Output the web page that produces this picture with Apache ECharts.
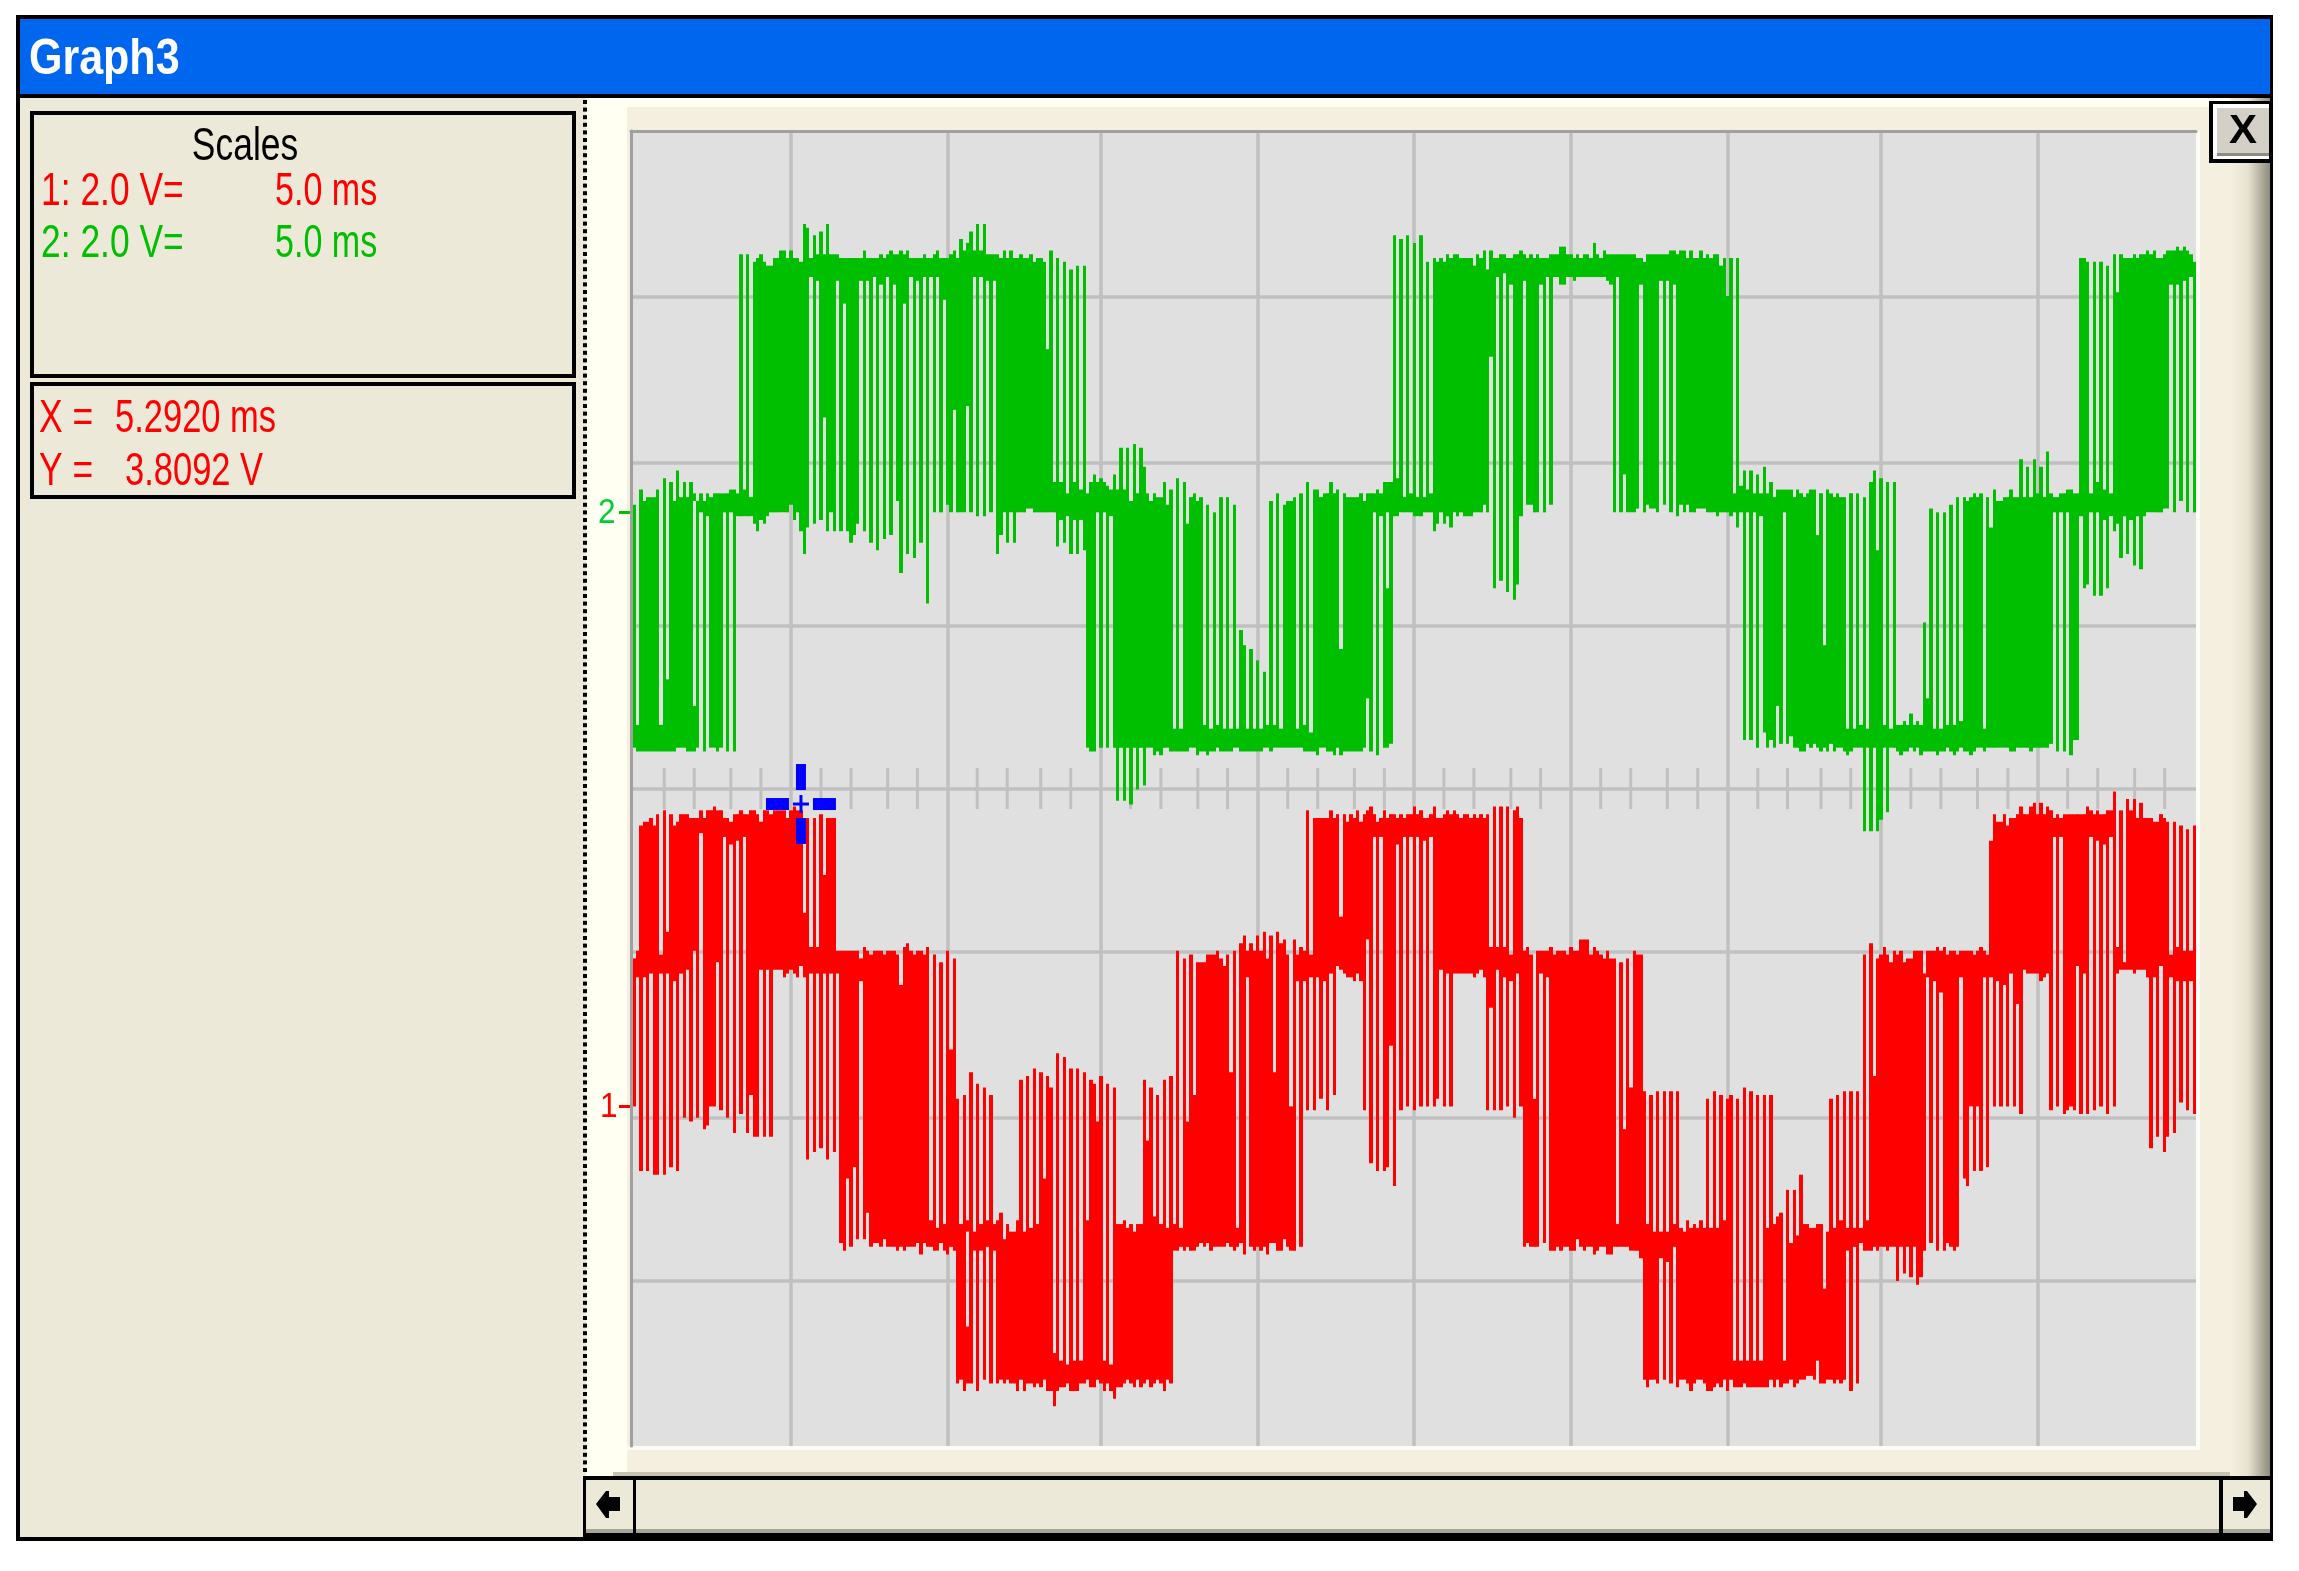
<!DOCTYPE html>
<html><head><meta charset="utf-8">
<style>html,body{margin:0;padding:0;background:#fff}#c{width:2299px;height:1571px}</style>
<script src="https://cdn.jsdelivr.net/npm/echarts@6/dist/echarts.min.js"></script>
</head><body><div id="c"></div>
<script>
// Values. Trace values are ADC counts per sample column, relative to each channel's ground marker.
const voltsPerCount = 0.04618;
const msPerSample = 0.10649;
const firstSampleMs = 0.054;
const channel1Ground = -3.868;
const channel2Ground = 3.36;
const cursorPoint = [5.43, -0.189];
const gridMs = [5.11,10.13,15.02,20.03,25.02,30.03,35.05,39.94,44.95];
const gridVolts = [-5.99,-4.01,-1.99,0,1.98,3.96,5.98];
const minorTickMs = [1.06,2.02,3.19,4.15,6.07,7.03,8.2,9.15,11.06,12.02,13.09,14.05,15.96,16.93,18.11,19.06,20.98,21.94,23.11,24.07,25.97,26.93,28.11,29.06,30.98,31.94,33.11,34.08,36,36.95,38.02,38.97,40.89,41.85,43.02,43.99,45.9,46.86,48.04,49];

const greenHigh = [
2,-56,6,3,4,4,4,6,-56,9,
-44,8,3,11,4,8,4,8,5,3,
5,3,5,4,5,5,5,5,5,6,
6,5,68,6,68,4,66,67,68,66,
65,65,67,67,69,69,67,69,67,67,
66,76,75,67,73,68,74,68,76,68,
68,68,67,67,67,67,67,67,67,69,
67,67,67,67,68,67,68,69,68,68,
69,68,69,67,67,67,67,68,67,67,
68,69,67,67,67,68,69,67,72,69,
71,74,69,76,69,76,68,68,68,68,
67,69,67,69,67,67,68,67,67,68,
66,67,67,66,43,69,8,67,8,66,
5,64,8,65,6,65,5,8,10,8,
9,8,7,6,10,6,17,6,17,3,
18,5,17,12,5,3,5,4,4,8,
2,6,-57,9,-57,8,-3,4,5,3,
4,-56,2,-57,0,-56,4,-57,4,-57,
2,-57,-31,-35,-57,-36,-57,-39,-57,-42,
-56,3,-56,5,-57,2,3,3,4,-57,
5,-56,8,-58,6,6,4,5,5,8,
5,6,-36,5,4,4,4,4,5,3,
5,5,5,6,5,8,8,8,73,9,
72,4,73,5,71,4,73,4,66,5,
67,66,67,66,68,67,68,68,67,67,
67,67,65,68,67,69,64,69,67,67,
68,68,67,67,68,68,69,68,67,68,
67,68,67,67,67,68,68,68,70,70,
68,68,67,68,67,68,68,67,71,68,
67,69,68,68,68,68,68,68,68,68,
68,67,67,66,68,68,68,68,68,68,
68,69,69,68,69,69,67,69,67,67,
69,67,68,67,68,68,65,67,57,67,
5,67,7,11,6,11,5,10,5,12,
5,8,4,6,6,6,6,6,4,6,
5,4,5,6,6,-6,5,-35,6,5,
4,5,4,4,-57,5,-57,5,-56,4,
-57,8,11,-10,9,-56,8,-57,8,-56,
-56,-55,-56,-53,-56,-55,-56,-29,-49,1,
-57,0,-57,0,-56,2,-56,4,-55,4,
3,4,5,4,5,-57,4,-4,6,3,
3,4,4,6,4,4,14,4,12,4,
14,5,12,4,16,5,4,4,5,5,
6,6,5,5,67,67,66,5,66,8,
66,6,65,5,68,58,68,67,67,67,
68,67,68,68,69,68,69,67,67,68,
69,69,69,70,69,70,69,68,66];
const greenLow = [
-62,-63,-63,-63,-63,-63,-63,-63,-63,-63,
-63,-63,-63,-62,-62,-62,-63,-63,-63,-62,
0,-63,-1,-62,-62,-63,-62,0,-63,0,
-63,-1,-1,-1,-1,-1,-3,-5,-2,-3,
-1,0,0,0,0,0,0,2,-2,0,
-5,-11,-4,62,-3,61,-2,25,-5,0,
-5,61,-5,55,-5,-8,-6,-3,61,-5,
61,-8,62,-10,60,-7,62,-6,60,3,
-16,55,-11,62,-12,61,-8,62,-24,62,
0,62,0,56,2,0,27,0,0,0,
28,0,62,-1,62,-1,61,0,61,-11,
-6,0,-8,0,-8,0,0,0,1,1,
0,0,0,0,0,0,0,-9,-2,-8,
-1,-11,-2,-11,-2,-10,-62,-63,-63,0,
-62,0,-62,-1,-62,-76,-62,-76,-62,-77,
-62,-73,-62,-72,-62,-62,-64,-63,-64,-62,
-62,-63,-63,-63,-63,-63,-63,-62,-62,-64,
-63,-63,-64,-63,-63,-62,-63,-63,-63,-63,
-62,-62,-63,-63,-63,-63,-63,-63,-63,-62,
-62,-63,-62,-62,-62,-62,-62,-62,-62,-62,
-62,-63,-63,-63,-63,-64,-62,-62,-63,-63,
-64,-62,-64,-63,-63,-63,-63,-63,-63,-62,
-49,-63,0,-64,-1,-62,-62,-61,-1,-1,
0,0,0,0,-1,-1,-1,0,0,0,
-5,-3,0,-3,-1,-4,0,-1,0,-1,
-1,-1,0,0,0,2,0,41,-20,62,
-18,63,-21,60,-23,-19,-1,61,2,2,
0,0,60,0,62,2,62,62,60,60,
62,62,61,62,62,62,62,62,62,62,
62,62,61,60,0,62,0,10,0,0,
0,1,60,0,2,1,1,0,61,2,
61,0,60,-1,2,0,2,0,0,1,
1,1,0,0,0,-1,0,0,0,-1,
0,-4,0,-60,0,-60,0,-62,-1,-58,
-62,-60,-62,-51,-61,0,-61,-59,-62,-62,
-63,-63,-61,-62,-61,-62,-63,-62,-63,-61,
-63,-62,-62,-63,-64,-63,-62,-62,-62,-84,
-62,-84,-62,-84,-81,-62,-79,-62,-62,-63,
-64,-63,-63,-62,-63,-62,-64,-63,-63,-63,
-63,-64,-63,-63,-62,-63,-64,-63,-62,-63,
-63,-64,-63,-62,-62,-63,-62,-62,-62,-62,
-62,-62,-62,-63,-63,-62,-62,-62,-62,-63,
-62,-62,-62,-62,-62,-61,0,-63,0,-63,
0,-64,-60,-60,-1,-20,-19,0,-22,0,
-22,-2,-20,-1,-5,-3,-12,-1,-11,-2,
-14,-1,-15,-1,0,0,0,0,0,1,
1,60,0,60,3,61,0,62,0];
const greenGaps = [[18,3,-51],[226,0,-20]];

const redHigh = [
39,41,74,75,75,76,74,77,40,78,
46,77,74,75,77,77,77,76,76,76,
78,76,78,78,79,78,78,76,76,75,
77,77,78,77,77,78,78,77,75,78,
78,77,78,78,78,78,76,78,79,78,
78,51,76,42,76,42,77,61,76,76,
76,41,41,41,41,41,41,41,39,42,
41,40,41,41,41,40,41,41,41,40,
32,42,43,41,40,41,41,40,42,-30,
40,-32,38,-31,41,15,39,2,-31,3,
-30,9,-33,6,-31,5,-30,3,-31,-30,
-28,-35,-31,-33,-33,-30,7,-33,8,-32,
10,-31,9,-19,8,5,-65,14,-67,13,
-68,10,-67,10,-67,9,-30,7,6,-4,
8,-67,6,-68,5,-31,-31,-30,-32,-31,
-33,-31,-31,7,-9,5,-29,3,-31,7,
-32,8,-31,41,-32,39,-4,40,3,38,
38,38,40,40,40,41,39,37,40,9,
41,-32,43,45,41,43,41,45,41,46,
39,45,9,46,43,44,40,0,44,40,
42,41,78,40,76,76,76,76,76,78,
76,77,50,77,75,77,76,78,75,77,
78,79,77,75,76,78,76,77,77,76,
77,76,77,77,79,77,78,76,76,77,
79,76,76,77,78,77,78,77,76,77,
77,76,77,76,77,76,77,42,79,42,
79,42,79,40,78,79,76,41,42,40,
2,41,41,41,41,42,40,41,41,41,
40,42,41,41,44,44,44,40,42,41,
40,39,41,39,39,-31,38,-6,39,5,
41,40,40,4,-31,3,-33,4,-33,4,
-33,4,-31,4,-32,-33,-30,-32,-31,-32,
-30,-32,2,-32,4,-32,3,-30,2,3,
-67,2,-67,5,-67,4,-67,3,-67,3,
-32,3,-31,-29,-28,-67,-22,-36,-22,-34,
-18,-31,-31,-32,-32,-31,-31,-48,-33,2,
-32,3,-30,4,-32,4,-32,4,-32,40,
-30,43,8,39,40,42,40,38,41,40,
41,38,39,39,41,41,41,35,41,41,
41,42,41,42,40,41,41,40,41,41,
41,41,40,41,42,41,40,70,77,75,
75,77,74,76,76,77,79,77,77,79,
80,77,80,77,79,78,76,77,76,77,
77,77,77,77,77,77,79,78,77,78,
77,77,78,78,83,42,78,38,81,78,
81,76,80,76,76,76,75,75,77,76,
75,40,75,42,74,41,73,41,74];
const redLow = [
0,34,-17,34,-17,35,-18,-18,35,-18,
35,-16,33,-17,35,-3,36,-4,41,-3,
72,-6,-5,0,0,38,-1,71,-3,69,
-7,70,-2,71,-7,3,-8,-8,36,-8,
36,-8,36,36,36,34,35,36,35,34,
37,34,-14,35,-12,35,-11,35,-14,35,
-12,35,-36,-38,-19,-37,-16,-35,33,-35,
-28,-37,-36,-36,-37,-35,-37,-37,-37,-38,
-37,-38,-37,-37,-37,-36,-39,-36,-37,-37,
-38,-38,-36,-38,-39,-37,-38,-73,-72,-75,
-73,-73,-38,-75,-38,-72,-37,-73,-38,-73,
-72,-73,-72,-73,-73,-75,-72,-75,-73,-73,
-74,-73,-74,-72,-75,-75,-79,-75,-74,-74,
-73,-75,-75,-75,-73,-73,-72,-74,-74,-72,
-73,-75,-73,-75,-77,-74,-74,-73,-72,-73,
-74,-72,-74,-73,-72,-74,-73,-72,-73,-75,
-72,-73,-38,-38,-37,-38,-37,-38,-38,-37,
-36,-37,-36,-38,-37,-37,-37,-37,-36,-37,
-38,-37,-36,-39,34,-37,-38,-37,-38,-37,
-39,-36,-36,-38,-38,-35,-37,-38,-38,33,
-37,33,-1,34,-1,34,2,33,-1,35,
3,37,36,35,34,34,33,35,33,-1,
44,-15,71,-17,71,-17,-16,16,-21,69,
-1,71,0,71,-1,71,0,70,0,71,
0,2,36,0,35,0,35,35,35,35,
35,35,34,35,36,34,-1,26,-1,36,
-1,34,0,33,-3,35,0,-37,-36,-37,
-37,-37,35,-36,34,-38,-38,-37,-38,-37,
-37,-38,-38,-35,-37,-38,-37,-37,-39,-38,
-37,-37,-39,-39,-37,-37,-37,-37,-37,-38,
-38,-38,-40,-72,-74,-72,-72,-73,-40,-72,
-41,-73,-37,-74,-72,-72,-73,-75,-73,-72,
-72,-73,-75,-75,-74,-73,-74,-72,-75,-72,
-74,-74,-74,-73,-74,-74,-74,-74,-74,-74,
-74,-72,-74,-72,-74,-73,-73,-72,-74,-73,
-72,-72,-71,-71,-72,-67,-73,-73,-72,-72,
-73,-72,-73,-72,-38,-75,-37,-73,-36,-38,
-38,-38,-37,-38,-37,-37,-38,-37,-37,-46,
-37,-44,-37,-45,-37,-47,-45,-38,34,-36,
33,-38,30,-38,-36,-37,-38,-37,34,-19,
-21,0,-17,0,-17,34,-16,34,0,33,
0,32,0,35,0,27,-2,36,35,35,
35,35,33,34,35,-1,71,0,71,-2,
-1,0,-1,37,-2,35,-2,71,-1,70,
0,69,-2,71,0,35,36,36,36,36,
35,36,36,36,34,-11,34,-8,37,-12,
-8,34,-7,33,1,33,-1,33,-2];
const redGaps = [[100,-33,-58]];

function buildTrace(high, low, gaps, ground){
  const out = [];
  const v = n => ground + n * voltsPerCount;
  const t = c => firstSampleMs + c * msPerSample;
  high.forEach((hi, c) => {
    const gap = gaps.find(g => g[0] === c);
    if (gap){
      out.push([t(c), t(c + 1), v(hi), v(gap[1])]);
      out.push([t(c), t(c + 1), v(gap[2]), v(low[c])]);
    } else {
      out.push([t(c), t(c + 1), v(hi), v(low[c])]);
    }
  });
  return out;
}
function traceSeries(name, color, data){
  return {
    type:'custom', name, data, z:4, clip:true, silent:true,
    encode:{x:[0,1], y:[2,3]},
    renderItem(params, api){
      const a = api.coord([api.value(0), api.value(2)]);
      const b = api.coord([api.value(1), api.value(3)]);
      const x0 = Math.round(a[0]), x1 = Math.round(b[0]);
      return {type:'rect', shape:{x:x0, y:a[1], width:x1-x0, height:b[1]-a[1]}, style:{fill:color}};
    }
  };
}

const BEIGE='#ECE9D8', PANE='#F5EFDF', CREAM='#FFFFF2', BLACK='#000', RED='#FF0000', GREEN='#00BE00';
const rect=(x,y,w,h,fill,z)=>({type:'rect',silent:true,z:z===undefined?-5:z,shape:{x,y,width:w,height:h},style:{fill}});
const txt=(x,y,s,fill,o)=>{o=o||{};return {type:'text',silent:true,z:50,x,y,scaleX:o.sx||0.77,style:{text:s,fill,font:(o.w||'normal')+' '+(o.size||46)+'px "Liberation Sans"',align:o.align||'left',verticalAlign:'middle'}};};
const poly=(pts,fill)=>({type:'polygon',silent:true,z:50,shape:{points:pts},style:{fill}});

const chrome=[
  rect(16,15,2257,1526,BLACK,-9),
  rect(20,19,2250,75,'#0066EE',-8),
  rect(20,98,566,1439,BEIGE,-8),
  rect(586,98,1684,1378,CREAM,-8),
  rect(627,107,1643,1366,PANE,-7),
  rect(613,1472,1657,4,'#C8C4B0',-6),
  {type:'rect',silent:true,z:-6,shape:{x:2230,y:98,width:40,height:1378},style:{fill:{type:'linear',x:0,y:0,x2:1,y2:0,colorStops:[{offset:0,color:PANE},{offset:0.45,color:'#E8E2D0'},{offset:1,color:'#8F8C7C'}]}}},
  rect(2196,131,4,1318,'#FCFBF5',-6),
  rect(627,1446,1573,4,'#FCFBF5',-6),
  // left boxes
  rect(30,111,546,267,BLACK,-7), rect(34,115,538,259,BEIGE,-6),
  rect(30,382,546,117,BLACK,-7), rect(34,386,538,109,BEIGE,-6),
  // close button
  rect(2209,101,63,62,BLACK,-4), rect(2213,104,56,55,'#FFFFFF',-3), rect(2217,108,52,48,'#D4D0C8',-3), rect(2217,153,52,3,'#8E8B80',-3),
  // scroll bar
  rect(583,1476,1690,65,BLACK,-4), rect(586,1480,47,53,BEIGE,-3), rect(636,1480,1583,53,BEIGE,-3), rect(2223,1480,47,53,BEIGE,-3),
  rect(586,1529,1684,4,'#A8A594',-2),
  rect(633,1529,3,4,BLACK,-1), rect(2219,1529,4,4,BLACK,-1),
  poly([[596,1504],[606,1491],[609,1491],[609,1497],[620,1497],[620,1511],[609,1511],[609,1518],[606,1518]],BLACK),
  poly([[2257,1504],[2247,1491],[2244,1491],[2244,1497],[2233,1497],[2233,1511],[2244,1511],[2244,1518],[2247,1518]],BLACK),
  // axis markers
  rect(619,1105,11,3,RED,5), rect(619,511,11,3,GREEN,5),
  txt(598,513,'2','#00CC33',{size:35,sx:0.9}),
  txt(600,1107,'1',RED,{size:35,sx:0.9}),
  // texts
  txt(245,147,'Scales','#000',{align:'center'}),
  txt(41,192,'1: 2.0 V=',RED), txt(275,192,'5.0 ms',RED,{sx:0.74}),
  txt(41,244,'2: 2.0 V=',GREEN), txt(275,244,'5.0 ms',GREEN,{sx:0.74}),
  txt(39,419,'X =',RED), txt(115,419,'5.2920 ms',RED,{sx:0.75}),
  txt(39,472,'Y =',RED), txt(125,472,'3.8092 V',RED,{sx:0.75}),
  txt(29,60,'Graph3','#FFFFFF',{size:50,w:'bold',sx:0.86}),
  txt(2243,132,'X','#000',{size:40,w:'bold',sx:1.05,align:'center'})
];
// dotted divider
const dots=[]; for(let y=100;y<1470;y+=7.6) dots.push(rect(583,y,4,4,BLACK,-3));

const opt={
  animation:false,
  backgroundColor:'#FFFFFF',
  tooltip:{show:false},
  grid:{left:631,top:131,width:1565,height:1315,show:true,backgroundColor:'#E0E0E0',borderWidth:0,containLabel:false},
  xAxis:{type:'value',min:0,max:50,position:'top',
    axisLine:{show:true,onZero:false,lineStyle:{color:'#A0A0A0',width:3}},
    axisTick:{show:false,customValues:gridMs},axisLabel:{show:false},
    splitLine:{show:true,lineStyle:{color:'#C0C0C0',width:3.5}}},
  yAxis:{type:'value',min:-8,max:8,position:'left',
    axisLine:{show:true,onZero:false,lineStyle:{color:'#A0A0A0',width:3}},
    axisTick:{show:false,customValues:gridVolts},axisLabel:{show:false},
    splitLine:{show:true,lineStyle:{color:'#C0C0C0',width:3.5}}},
  graphic:{elements:chrome.concat(dots)},
  series:[
    {type:'custom',name:'Minor ticks',z:1,silent:true,data:minorTickMs.map(t=>[t]),encode:{x:0},
      renderItem(p,api){
        const a=api.coord([api.value(0),0.25]), b=api.coord([api.value(0),-0.25]);
        return {type:'line',shape:{x1:a[0],y1:a[1],x2:b[0],y2:b[1]},style:{stroke:'#C0C0C0',lineWidth:3}};
      }},
    traceSeries('Channel 2','#00BE00',buildTrace(greenHigh,greenLow,greenGaps,channel2Ground)),
    traceSeries('Channel 1','#FF0000',buildTrace(redHigh,redLow,redGaps,channel1Ground)),
    {type:'custom',name:'Cursor',z:6,silent:true,data:[cursorPoint],encode:{x:0,y:1},
      renderItem(p,api){
        const c=api.coord([api.value(0),api.value(1)]), B='#0000FF';
        const r=(x,y,w,h)=>({type:'rect',shape:{x:c[0]+x,y:c[1]+y,width:w,height:h},style:{fill:B}});
        return {type:'group',children:[r(-35,-6,23,12),r(12,-6,23,12),r(-5,-40,10,26),r(-5,14,10,26),r(-8,-1.5,16,3),r(-1.5,-9,3,18)]};
      }}
  ]
};
const chart=echarts.init(document.getElementById('c'),null,{renderer:'canvas',width:2299,height:1571});
chart.setOption(opt);
</script></body></html>
